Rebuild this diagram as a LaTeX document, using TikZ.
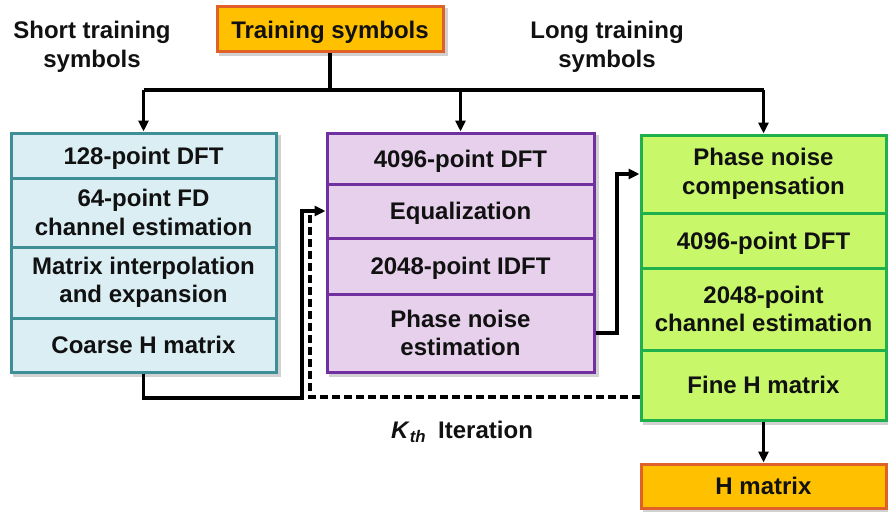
\documentclass[tikz,border=0pt]{standalone}
\usepackage{fontspec}
\setmainfont{Liberation Sans}
\usetikzlibrary{arrows.meta,backgrounds}
\definecolor{orfill}{HTML}{FFC000}
\definecolor{ordraw}{HTML}{E0602A}
\definecolor{blfill}{HTML}{DAEEF3}
\definecolor{bldraw}{HTML}{3E8E95}
\definecolor{pufill}{HTML}{E6D0EB}
\definecolor{pudraw}{HTML}{7030A0}
\definecolor{grfill}{HTML}{C8F76A}
\definecolor{grdraw}{HTML}{1DB04B}
\definecolor{txt}{HTML}{111111}
\tikzset{
  cell/.style={draw, line width=3pt, align=center, inner sep=0pt,
    font=\fontsize{24}{28.5}\selectfont\bfseries, text=txt},
  oneline/.style={text depth=0pt},
  bluecell/.style={cell, fill=blfill, draw=bldraw, minimum width=265pt},
  purcell/.style={cell, fill=pufill, draw=pudraw, minimum width=267pt},
  grcell/.style={cell, fill=grfill, draw=grdraw, minimum width=245pt},
  orcell/.style={cell, fill=orfill, draw=ordraw},
  lbl/.style={align=center, font=\fontsize{24}{28.5}\selectfont\bfseries, text=txt},
  conn/.style={line width=3.2pt, black},
  arr/.style={conn, -{Triangle[length=11pt,width=10pt]}},
  dconn/.style={line width=3.2pt, black, dash pattern=on 8pt off 4pt},
  shade/.style={fill=black!30, opacity=0.6}
}
\begin{document}
\begin{tikzpicture}[x=1pt,y=-1pt]
\useasboundingbox (0,0) rectangle (888,511);
% top box
\node[orcell, oneline, minimum width=226pt, minimum height=45pt] (T) at (330,29.5) {Training symbols};
% labels
\node[lbl] (SL) at (92,47) {Short training\\symbols};
\node[lbl] (LL) at (607,47) {Long training\\symbols};
% left column
\node[bluecell, oneline, minimum height=45pt] (L1) at (143.5,155.5) {128-point DFT};
\node[bluecell, minimum height=69pt] (L2) at (143.5,212.5) {64-point FD\\channel estimation};
\node[bluecell, minimum height=71pt] (L3) at (143.5,282.5) {Matrix interpolation\\and expansion};
\node[bluecell, oneline, minimum height=54pt] (L4) at (143.5,345) {Coarse H matrix};
% middle column
\node[purcell, oneline, minimum height=51pt] (M1) at (460.5,158.5) {4096-point DFT};
\node[purcell, oneline, minimum height=54pt] (M2) at (460.5,211) {Equalization};
\node[purcell, oneline, minimum height=56pt] (M3) at (460.5,266) {2048-point IDFT};
\node[purcell, minimum height=78pt] (M4) at (460.5,333) {Phase noise\\estimation};
% right column
\node[grcell, minimum height=78pt] (R1) at (763.5,174) {Phase noise\\compensation};
\node[grcell, oneline, minimum height=55pt] (R2) at (763.5,240.5) {4096-point DFT};
\node[grcell, minimum height=82pt] (R3) at (763.5,309) {2048-point\\channel estimation};
\node[grcell, oneline, minimum height=70pt] (R4) at (763.5,385) {Fine H matrix};
% output
\node[orcell, oneline, minimum width=245pt, minimum height=44pt] (H) at (763.5,486) {H matrix};
% iteration label
\node[lbl] (K) at (462,432) {\textit{K}\textsubscript{\textit{th}}\hspace{0.5em}Iteration};
% shadows
\begin{scope}[on background layer]
  \fill[shade] ([shift={(3,3)}]T.north west) rectangle ([shift={(3,3)}]T.south east);
  \fill[shade] ([shift={(3,3)}]L1.north west) rectangle ([shift={(3,3)}]L4.south east);
  \fill[shade] ([shift={(3,3)}]M1.north west) rectangle ([shift={(3,3)}]M4.south east);
  \fill[shade] ([shift={(3,3)}]R1.north west) rectangle ([shift={(3,3)}]R4.south east);
  \fill[shade] ([shift={(3,3)}]H.north west) rectangle ([shift={(3,3)}]H.south east);
\end{scope}
% bus
\coordinate (bus) at (0,90);
\draw[conn] (T.south) -- (T.south |- bus);
\draw[conn] (L1.north |- bus) -- (R1.north |- bus);
\draw[arr] (L1.north |- bus) -- (L1.north);
\draw[arr] (M1.north |- bus) -- (M1.north);
\draw[arr] (R1.north |- bus) -- (R1.north);
% feedback dashed
\coordinate (dx) at (310,397);
\draw[dconn] (R4.west |- dx) -- (dx) -- (dx |- M2.west);
% coarse to equalization
\coordinate (jx) at (302,398);
\draw[arr] (L4.south) |- (jx) |- (M2.west);
% phase noise estimation to compensation
\coordinate (px) at (617,0);
\draw[arr] (M4.east) -| (px |- R1.west) -- (R1.west);
% to output
\draw[arr] (R4.south) -- (H.north);
\end{tikzpicture}
\end{document}
